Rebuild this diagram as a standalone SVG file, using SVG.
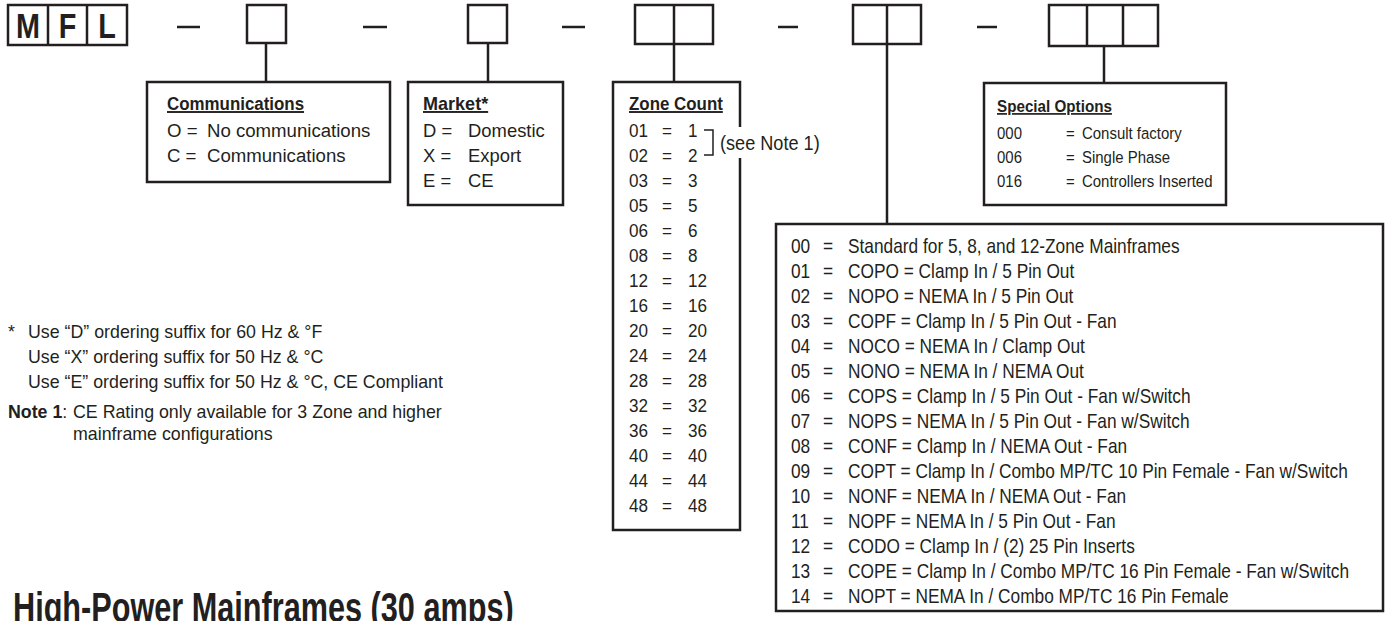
<svg xmlns="http://www.w3.org/2000/svg" width="1390" height="621" viewBox="0 0 1390 621">
<style>
.bx{fill:#fff;stroke:#231f20;stroke-width:2.5}
.ln{stroke:#231f20;stroke-width:2.5;fill:none}
.c{font-family:'Liberation Sans',Arial,sans-serif;fill:#231f20}
.t{font-weight:bold;text-decoration:underline}
.f{font-family:'Liberation Sans',Arial,sans-serif;fill:#231f20;font-size:17.8px}
.big{font-size:20px}
.zn{font-size:19px}
.cm{font-size:19px}
.sp{font-size:17px}
</style>
<rect width="1390" height="621" fill="#fff"/>
<g id="code-prefix">
<rect class="bx" x="8" y="5" width="119" height="40"/>
<line class="ln" x1="48" y1="5" x2="48" y2="45"/>
<line class="ln" x1="87" y1="5" x2="87" y2="45"/>
<g class="c" font-weight="bold" font-size="36" text-anchor="middle">
<text transform="translate(28,37.5) scale(.8,1)">M</text>
<text transform="translate(67.5,37.5) scale(.8,1)">F</text>
<text transform="translate(107,37.5) scale(.8,1)">L</text>
</g>
</g>
<g id="dashes">
<line class="ln" x1="177" y1="27" x2="200" y2="27"/>
<line class="ln" x1="363" y1="27" x2="387" y2="27"/>
<line class="ln" x1="562" y1="27" x2="585" y2="27"/>
<line class="ln" x1="778" y1="27" x2="798" y2="27"/>
<line class="ln" x1="977" y1="27" x2="997" y2="27"/>
</g>
<g id="connectors">
<line class="ln" x1="266" y1="43" x2="266" y2="82"/>
<line class="ln" x1="488" y1="43" x2="488" y2="82"/>
<line class="ln" x1="674" y1="44" x2="674" y2="82"/>
<line class="ln" x1="887" y1="44" x2="887" y2="224"/>
<line class="ln" x1="1104" y1="46" x2="1104" y2="83"/>
</g>
<g id="slot-comm"><rect class="bx" x="247" y="5" width="39" height="38"/></g>
<g id="slot-market"><rect class="bx" x="468" y="5" width="39" height="38"/></g>
<g id="slot-zone"><rect class="bx" x="635" y="5" width="78" height="39"/><line class="ln" x1="674" y1="5" x2="674" y2="44"/></g>
<g id="slot-config"><rect class="bx" x="853" y="5" width="68" height="39"/><line class="ln" x1="887" y1="5" x2="887" y2="44"/></g>
<g id="slot-special"><rect class="bx" x="1049" y="5" width="109" height="41"/><line class="ln" x1="1087" y1="5" x2="1087" y2="46"/><line class="ln" x1="1123" y1="5" x2="1123" y2="46"/></g>
<g id="communications">
<rect class="bx" x="147" y="82" width="243" height="100"/>
<text class="c t" font-size="19" transform="translate(167,110) scale(.89,1)">Communications</text>
<g class="c cm">
<g transform="translate(167,137) scale(.98,1)"><text x="0">O =</text><text x="40.8">No communications</text></g>
<g transform="translate(167,162) scale(.98,1)"><text x="0">C =</text><text x="40.8">Communications</text></g>
</g>
</g>
<g id="market">
<rect class="bx" x="408" y="82" width="155" height="123"/>
<text class="c t" font-size="19" transform="translate(423,110) scale(.95,1)">Market*</text>
<g class="c cm">
<g transform="translate(423,137) scale(.97,1)"><text x="0">D =</text><text x="46.4">Domestic</text></g>
<g transform="translate(423,162) scale(.97,1)"><text x="0">X =</text><text x="46.4">Export</text></g>
<g transform="translate(423,187) scale(.97,1)"><text x="0">E =</text><text x="46.4">CE</text></g>
</g>
</g>
<g id="zone-count">
<rect class="bx" x="613" y="82" width="127" height="448"/>
<rect x="715" y="127" width="108" height="31" fill="#fff"/>
<polyline points="704,130 713,130 713,155 704,155" fill="none" stroke="#231f20" stroke-width="1.5"/>
<text class="c" font-size="19.5" transform="translate(720,150) scale(.93,1)">(see Note 1)</text>
<text class="c t" font-size="19" transform="translate(629,110) scale(.89,1)">Zone Count</text>
<g class="c zn">
<g transform="translate(629,137) scale(.9,1)"><text x="0">01</text><text x="36.7">=</text><text x="65.6">1</text></g>
<g transform="translate(629,162) scale(.9,1)"><text x="0">02</text><text x="36.7">=</text><text x="65.6">2</text></g>
<g transform="translate(629,187) scale(.9,1)"><text x="0">03</text><text x="36.7">=</text><text x="65.6">3</text></g>
<g transform="translate(629,212) scale(.9,1)"><text x="0">05</text><text x="36.7">=</text><text x="65.6">5</text></g>
<g transform="translate(629,237) scale(.9,1)"><text x="0">06</text><text x="36.7">=</text><text x="65.6">6</text></g>
<g transform="translate(629,262) scale(.9,1)"><text x="0">08</text><text x="36.7">=</text><text x="65.6">8</text></g>
<g transform="translate(629,287) scale(.9,1)"><text x="0">12</text><text x="36.7">=</text><text x="65.6">12</text></g>
<g transform="translate(629,312) scale(.9,1)"><text x="0">16</text><text x="36.7">=</text><text x="65.6">16</text></g>
<g transform="translate(629,337) scale(.9,1)"><text x="0">20</text><text x="36.7">=</text><text x="65.6">20</text></g>
<g transform="translate(629,362) scale(.9,1)"><text x="0">24</text><text x="36.7">=</text><text x="65.6">24</text></g>
<g transform="translate(629,387) scale(.9,1)"><text x="0">28</text><text x="36.7">=</text><text x="65.6">28</text></g>
<g transform="translate(629,412) scale(.9,1)"><text x="0">32</text><text x="36.7">=</text><text x="65.6">32</text></g>
<g transform="translate(629,437) scale(.9,1)"><text x="0">36</text><text x="36.7">=</text><text x="65.6">36</text></g>
<g transform="translate(629,462) scale(.9,1)"><text x="0">40</text><text x="36.7">=</text><text x="65.6">40</text></g>
<g transform="translate(629,487) scale(.9,1)"><text x="0">44</text><text x="36.7">=</text><text x="65.6">44</text></g>
<g transform="translate(629,512) scale(.9,1)"><text x="0">48</text><text x="36.7">=</text><text x="65.6">48</text></g>
</g>
</g>
<g id="special-options">
<rect class="bx" x="984" y="83" width="242" height="122"/>
<text class="c t" font-size="17" transform="translate(997,112) scale(.895,1)">Special Options</text>
<g class="c sp">
<g transform="translate(997,139) scale(.88,1)"><text x="0">000</text><text x="78.4">=</text><text x="96.6">Consult factory</text></g>
<g transform="translate(997,163) scale(.88,1)"><text x="0">006</text><text x="78.4">=</text><text x="96.6">Single Phase</text></g>
<g transform="translate(997,187) scale(.88,1)"><text x="0">016</text><text x="78.4">=</text><text x="96.6">Controllers Inserted</text></g>
</g>
</g>
<g id="configuration">
<rect class="bx" x="776" y="224" width="607" height="387"/>
<g class="c big">
<g transform="translate(791,253) scale(.865,1)"><text x="0">00</text><text x="37">=</text><text x="65.9">Standard for 5, 8, and 12-Zone Mainframes</text></g>
<g transform="translate(791,278) scale(.865,1)"><text x="0">01</text><text x="37">=</text><text x="65.9">COPO = Clamp In / 5 Pin Out</text></g>
<g transform="translate(791,303) scale(.865,1)"><text x="0">02</text><text x="37">=</text><text x="65.9">NOPO = NEMA In / 5 Pin Out</text></g>
<g transform="translate(791,328) scale(.865,1)"><text x="0">03</text><text x="37">=</text><text x="65.9">COPF = Clamp In / 5 Pin Out - Fan</text></g>
<g transform="translate(791,353) scale(.865,1)"><text x="0">04</text><text x="37">=</text><text x="65.9">NOCO = NEMA In / Clamp Out</text></g>
<g transform="translate(791,378) scale(.865,1)"><text x="0">05</text><text x="37">=</text><text x="65.9">NONO = NEMA In / NEMA Out</text></g>
<g transform="translate(791,403) scale(.865,1)"><text x="0">06</text><text x="37">=</text><text x="65.9">COPS = Clamp In / 5 Pin Out - Fan w/Switch</text></g>
<g transform="translate(791,428) scale(.865,1)"><text x="0">07</text><text x="37">=</text><text x="65.9">NOPS = NEMA In / 5 Pin Out - Fan w/Switch</text></g>
<g transform="translate(791,453) scale(.865,1)"><text x="0">08</text><text x="37">=</text><text x="65.9">CONF = Clamp In / NEMA Out - Fan</text></g>
<g transform="translate(791,478) scale(.865,1)"><text x="0">09</text><text x="37">=</text><text x="65.9">COPT = Clamp In / Combo MP/TC 10 Pin Female - Fan w/Switch</text></g>
<g transform="translate(791,503) scale(.865,1)"><text x="0">10</text><text x="37">=</text><text x="65.9">NONF = NEMA In / NEMA Out - Fan</text></g>
<g transform="translate(791,528) scale(.865,1)"><text x="0">11</text><text x="37">=</text><text x="65.9">NOPF = NEMA In / 5 Pin Out - Fan</text></g>
<g transform="translate(791,553) scale(.865,1)"><text x="0">12</text><text x="37">=</text><text x="65.9">CODO = Clamp In / (2) 25 Pin Inserts</text></g>
<g transform="translate(791,578) scale(.865,1)"><text x="0">13</text><text x="37">=</text><text x="65.9">COPE = Clamp In / Combo MP/TC 16 Pin Female - Fan w/Switch</text></g>
<g transform="translate(791,603) scale(.865,1)"><text x="0">14</text><text x="37">=</text><text x="65.9">NOPT = NEMA In / Combo MP/TC 16 Pin Female</text></g>
</g>
</g>
<g id="notes">
<text class="f" x="8" y="338">*</text>
<text class="f" x="28" y="338">Use “D” ordering suffix for 60 Hz &amp; °F</text>
<text class="f" x="28" y="363">Use “X” ordering suffix for 50 Hz &amp; °C</text>
<text class="f" x="28" y="388">Use “E” ordering suffix for 50 Hz &amp; °C, CE Compliant</text>
<text class="f" x="8" y="418"><tspan font-weight="bold">Note 1</tspan>:</text>
<text class="f" x="73" y="418">CE Rating only available for 3 Zone and higher</text>
<text class="f" x="73" y="440">mainframe configurations</text>
</g>
<text class="c" font-weight="bold" font-size="42" transform="translate(13,622) scale(.73,1)">High-Power Mainframes (30 amps)</text>
</svg>
